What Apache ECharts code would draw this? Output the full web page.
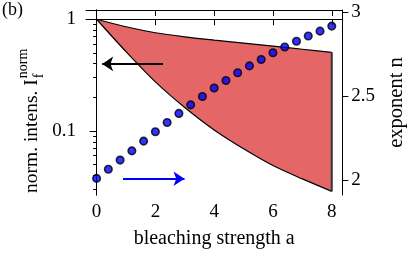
<!DOCTYPE html>
<html><head><meta charset="utf-8">
<script src="https://cdn.jsdelivr.net/npm/echarts@6/dist/echarts.min.js"></script>
<style>html,body{margin:0;padding:0;background:#fff}#c{width:415px;height:256px}</style>
</head><body><div id="c"></div>
<script>
// ---- data ----
const bleach = [0, 1, 2, 3, 4, 5, 6, 7, 8];
const upperIntensity = [1, 0.856, 0.757, 0.696, 0.651, 0.612, 0.575, 0.539, 0.506];
const lowerIntensity = [1, 0.513, 0.275, 0.162, 0.102, 0.0692, 0.0490, 0.0372, 0.0288];
const dotA = [0, 0.4, 0.8, 1.2, 1.6, 2.0, 2.4, 2.8, 3.2, 3.6, 4.0, 4.4, 4.8, 5.2, 5.6, 6.0, 6.4, 6.8, 7.2, 7.6, 8.0];
const exponentN = [2.010, 2.064, 2.119, 2.174, 2.232, 2.288, 2.343, 2.397, 2.448, 2.498, 2.548, 2.593, 2.639, 2.680, 2.718, 2.758, 2.793, 2.827, 2.858, 2.887, 2.917];
const xTicks = [0, 2, 4, 6, 8];
const leftTicks = [0.1, 1];
const leftMinorTicks = [0.03, 0.04, 0.05, 0.06, 0.07, 0.08, 0.09, 0.2, 0.3, 0.4, 0.5, 0.6, 0.7, 0.8, 0.9];
const rightTicks = [2, 2.5, 3];
const blackArrow = [[2.26, 0.398], [0.19, 0.398]];
const blueArrow = [[0.9, 2.008], [2.99, 2.008]];
const xName = 'bleaching strength a';
const leftName = 'norm. intens. I';
const rightName = 'exponent n';

// ---- chart ----
const FF = '"Liberation Serif", "Times New Roman", serif';
const chart = echarts.init(document.getElementById('c'), null, {renderer: 'canvas'});
const upperPts = bleach.map((a, i) => [a, upperIntensity[i]]);
const lowerPts = bleach.map((a, i) => [a, lowerIntensity[i]]);
const scatterPts = dotA.map((a, i) => [a, exponentN[i]]);

const ctx = document.createElement('canvas').getContext('2d');
const mainFont = 19.5;
ctx.font = mainFont + 'px ' + FF;
const leftW = ctx.measureText(leftName).width;

const lineAx = {show: true, lineStyle: {color: '#000', width: 1}};
const txt = {color: '#000', fontFamily: FF, fontSize: 19};
const xMin = -0.36, xMax = 8.36, yMin = 0.0267, yMax = 1.21, nMin = 1.911, nMax = 3.013;

chart.setOption({
  animation: false,
  backgroundColor: '#fff',
  grid: {left: 86, right: 63, top: 10, bottom: 61, containLabel: false},
  xAxis: [
    {type: 'value', min: xMin, max: xMax, position: 'bottom', axisLine: lineAx,
     axisTick: {show: true, inside: false, length: 6, customValues: xTicks, lineStyle: {color: '#000'}},
     axisLabel: {show: true, customValues: xTicks, margin: 8, ...txt},
     splitLine: {show: false},
     name: xName, nameLocation: 'middle', nameGap: 34, nameTextStyle: {...txt, fontSize: 20}},
    {type: 'value', min: xMin, max: xMax, position: 'top', axisLine: lineAx,
     axisTick: {show: true, inside: true, length: 6, customValues: xTicks, lineStyle: {color: '#000'}},
     axisLabel: {show: false}, splitLine: {show: false}}
  ],
  yAxis: [
    {type: 'log', logBase: 10, min: yMin, max: yMax, position: 'left', axisLine: lineAx,
     axisTick: {show: true, length: 7, customValues: leftTicks, lineStyle: {color: '#000'}},
     axisLabel: {show: true, customValues: leftTicks, margin: 10, formatter: v => (v >= 1 ? '1' : '0.1'), ...txt},
     splitLine: {show: false}, minorTick: {show: false}},
    // minor-tick helper axis: same scale expressed in decades (log10 of the intensity)
    {type: 'value', min: Math.log10(yMin), max: Math.log10(yMax), position: 'left', offset: 0, axisLine: lineAx,
     axisTick: {show: true, length: 3.5, customValues: leftMinorTicks.map(Math.log10), lineStyle: {color: '#000'}},
     axisLabel: {show: false}, splitLine: {show: false}},
    {type: 'value', min: nMin, max: nMax, position: 'right', axisLine: lineAx,
     axisTick: {show: true, length: 6, customValues: rightTicks, lineStyle: {color: '#000'}},
     axisLabel: {show: true, customValues: rightTicks, margin: 9, formatter: v => String(v), ...txt},
     splitLine: {show: false},
     name: rightName, nameLocation: 'middle', nameRotate: 90, nameGap: 40, nameTextStyle: {...txt, fontSize: 20.5}}
  ],
  graphic: [
    {type: 'text', left: 2, top: 1, style: {text: '(b)', fill: '#000', font: '18px ' + FF}},
    {type: 'group', x: 32, y: 193, rotation: Math.PI / 2, children: [
      {type: 'text', x: 0, y: 0, style: {text: leftName, fill: '#000', font: mainFont + 'px ' + FF, align: 'left', verticalAlign: 'middle'}},
      {type: 'text', x: leftW + 1, y: 7, style: {text: 'f', fill: '#000', font: '14px ' + FF, align: 'left', verticalAlign: 'middle'}},
      {type: 'text', x: leftW + 1, y: -9, style: {text: 'norm', fill: '#000', font: '14px ' + FF, align: 'left', verticalAlign: 'middle'}}
    ]}
  ],
  series: [
    {type: 'custom', xAxisIndex: 0, yAxisIndex: 0, silent: true, z: 1,
     data: [[bleach[bleach.length - 1], upperIntensity[upperIntensity.length - 1]]],
     renderItem: (params, api) => {
       const pts = upperPts.map(p => api.coord(p)).concat(lowerPts.slice().reverse().map(p => api.coord(p)));
       return {type: 'polygon', shape: {points: pts}, style: {fill: '#e46666', stroke: null}};
     }},
    {type: 'line', xAxisIndex: 0, yAxisIndex: 0, data: upperPts, smooth: 0.3, symbol: 'none', silent: true, z: 3,
     lineStyle: {color: '#000', width: 1.2},
     markLine: {silent: true, symbol: ['none', 'arrow'], symbolSize: [11, 11], label: {show: false},
       lineStyle: {color: '#000', width: 2.2, type: 'solid'},
       data: [[{coord: blackArrow[0]}, {coord: blackArrow[1]}]]}},
    {type: 'line', xAxisIndex: 0, yAxisIndex: 0, data: lowerPts, smooth: 0.3, symbol: 'none', silent: true, z: 3,
     lineStyle: {color: '#000', width: 1.2}},
    {type: 'line', xAxisIndex: 0, yAxisIndex: 0, data: [upperPts[upperPts.length - 1], lowerPts[lowerPts.length - 1]], symbol: 'none', silent: true, z: 3,
     lineStyle: {color: '#333', width: 2}},
    {type: 'scatter', xAxisIndex: 0, yAxisIndex: 2, data: scatterPts, symbol: 'circle', symbolSize: 7.5, silent: true, z: 5,
     itemStyle: {color: '#0000ff', borderColor: '#000', borderWidth: 1.6},
     markLine: {silent: true, symbol: ['none', 'arrow'], symbolSize: [11, 11], label: {show: false},
       lineStyle: {color: '#0000ff', width: 2.2, type: 'solid'},
       data: [[{coord: blueArrow[0]}, {coord: blueArrow[1]}]]}}
  ]
});
</script></body></html>
